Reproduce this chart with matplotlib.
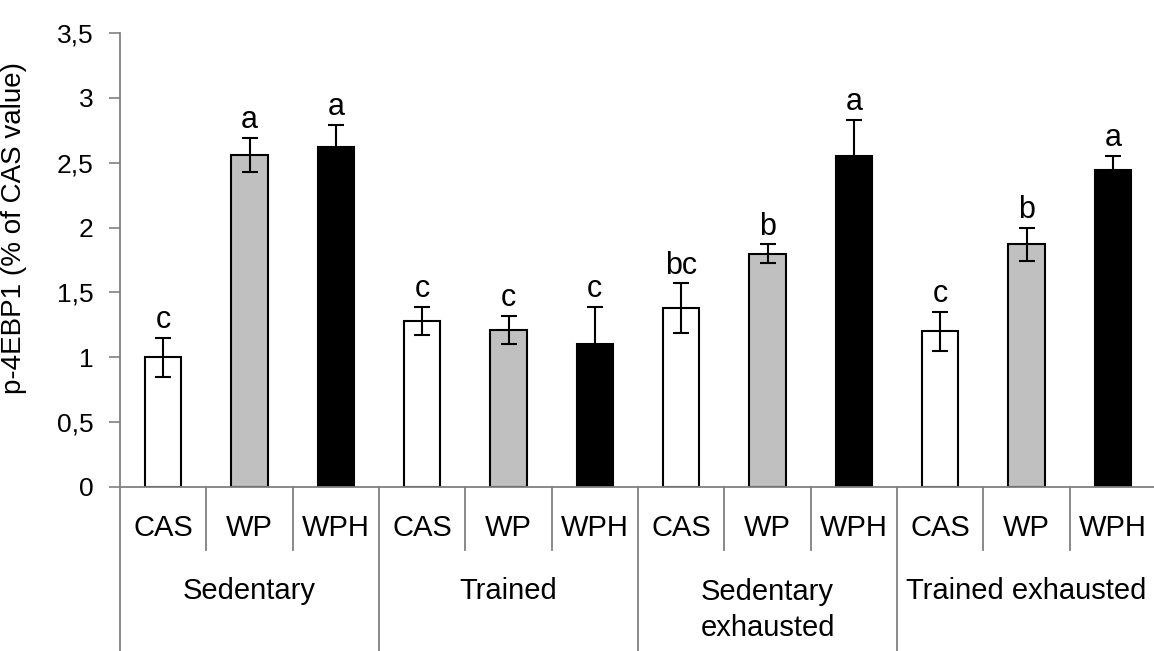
import matplotlib.pyplot as plt

# Data
groups = ["Sedentary", "Trained", "Sedentary\nexhausted", "Trained exhausted"]
diets = ["CAS", "WP", "WPH"]
values = [1.00, 2.56, 2.62, 1.28, 1.21, 1.10, 1.38, 1.80, 2.55, 1.20, 1.87, 2.44]
errors = [0.15, 0.13, 0.17, 0.11, 0.11, 0.29, 0.19, 0.07, 0.28, 0.15, 0.13, 0.11]
letters = ["c", "a", "a", "c", "c", "c", "bc", "b", "a", "c", "b", "a"]
diet_colors = ["white", "#c0c0c0", "black"]
yticks = [0, 0.5, 1, 1.5, 2, 2.5, 3, 3.5]

plt.rcParams["font.family"] = ["Liberation Sans", "DejaVu Sans"]

W, H = 1154, 651
fig = plt.figure(figsize=(W / 100, H / 100), dpi=100)
ax = fig.add_axes([120 / W, (H - 487) / H, 1036 / W, (487 - 33) / H])

n = len(values)
x = [i + 0.5 for i in range(n)]
colors = [diet_colors[i % 3] for i in range(n)]

ax.bar(x, values, width=0.42, color=colors, edgecolor="black", linewidth=1.5, zorder=2)
ax.errorbar(x, values, yerr=errors, fmt="none", ecolor="black", elinewidth=1.5,
            capsize=6, capthick=1.5, zorder=3)

for xi, v, e, lab in zip(x, values, errors, letters):
    ax.annotate(lab, (xi, v + e), xytext=(0, 2), textcoords="offset points",
                ha="center", va="bottom", fontsize=22)

ax.set_xlim(0, n)
ax.set_ylim(0, 3.5)
ax.set_yticks(yticks)
ax.set_yticklabels([str(t).replace(".", ",").replace(",0", "") if t != 0 else "0" for t in yticks],
                   fontsize=19)
ax.set_xticks([])
ax.tick_params(axis="y", direction="out", length=8, width=1.2, color="#808080", pad=11)

for s in ["top", "right"]:
    ax.spines[s].set_visible(False)
for s in ["left", "bottom"]:
    ax.spines[s].set_color("#808080")
    ax.spines[s].set_linewidth(1.3)

ax.set_ylabel("p-4EBP1 (% of CAS value)", fontsize=20)
ax.yaxis.set_label_coords(-0.09, 0.57)

# category table under the axis
tr = ax.get_xaxis_transform()
for i in range(n + 1):
    bottom = -0.5 if i % 3 == 0 else -0.139
    ax.plot([i, i], [0, bottom], color="#808080", lw=1.3, transform=tr, clip_on=False)

for i in range(n):
    ax.text(i + 0.5, -0.09, diets[i % 3], transform=tr, ha="center", va="center",
            fontsize=21)

for g, name in enumerate(groups):
    ypos = -0.229 if "\n" not in name else -0.271
    ax.text(g * 3 + 1.5, ypos, name, transform=tr, ha="center", va="center",
            fontsize=21, linespacing=1.4)

fig.savefig("out.png", dpi=100)
